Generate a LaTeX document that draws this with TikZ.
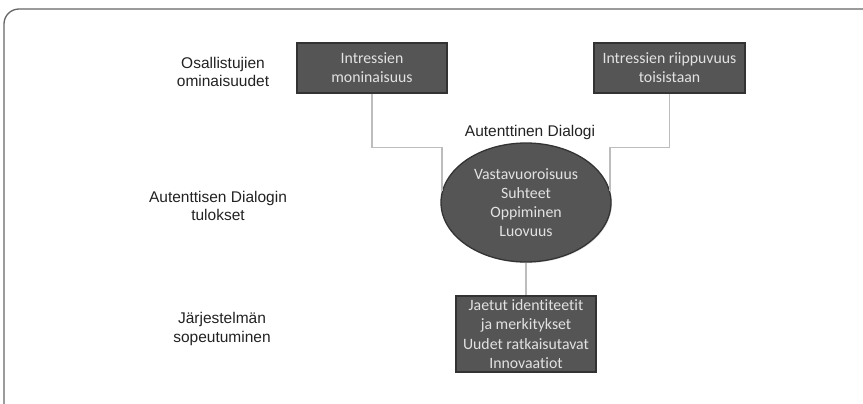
\documentclass[tikz,border=0pt]{standalone}
\usepackage{fontspec}
\newfontfamily\boxfont[Ligatures=NoCommon]{Carlito}
\newfontfamily\labfont{Liberation Sans}
\usetikzlibrary{shapes.geometric,shadows}

\definecolor{boxfill}{HTML}{555555}
\definecolor{boxedge}{HTML}{333333}
\definecolor{boxtext}{HTML}{E2E2E2}
\definecolor{linkgray}{HTML}{BDBDBD}
\definecolor{framegray}{HTML}{666666}
\definecolor{labtext}{HTML}{222222}

\tikzset{
  darkbox/.style={draw=boxedge, fill=boxfill, line width=1.3pt, text=boxtext,
    align=center, inner sep=0pt,
    font=\boxfont\fontsize{15.8}{19.2}\selectfont,
    drop shadow={shadow xshift=1pt, shadow yshift=-1pt, opacity=0.25}},
  darkell/.style={darkbox, ellipse},
  rowlabel/.style={text=labtext, align=center, inner sep=0pt,
    font=\labfont\fontsize{15.5}{18.5}\selectfont},
  link/.style={draw=linkgray, line width=1.6pt}
}

\begin{document}
\begin{tikzpicture}[x=1pt, y=-1pt]
  \useasboundingbox (0,0) rectangle (863,404);
  \begin{scope}
    \clip (0,0) rectangle (863,404);
    % outer frame, open to the right and bottom
    \draw[framegray, line width=1.3pt, rounded corners=15pt] (4,9) rectangle (885,425);
  \end{scope}

  % row labels
  \node[rowlabel] (lab1) at (223,72) {Osallistujien\\ominaisuudet};
  \node[rowlabel] (lab2) at (218,206) {Autenttisen Dialogin\\tulokset};
  \node[rowlabel] (lab3) at (222,329) {Järjestelmän\\sopeutuminen};

  % participant characteristics
  \node[darkbox, minimum width=150pt, minimum height=50pt] (b1) at (372,68)
    {Intressien\\moninaisuus};
  \node[darkbox, minimum width=151pt, minimum height=50pt] (b2) at (669.5,68)
    {Intressien riippuvuus\\toisistaan};

  % dialogue
  \node[darkell, minimum width=170pt, minimum height=119pt] (ell) at (526,202.5)
    {Vastavuoroisuus\\Suhteet\\Oppiminen\\Luovuus};
  \node[rowlabel] (title) at (530,132) {Autenttinen Dialogi};

  % system adaptation
  \node[darkbox, minimum width=140pt, minimum height=76pt] (b3) at (526,334)
    {Jaetut identiteetit\\ja merkitykset\\Uudet ratkaisutavat\\Innovaatiot};

  % connectors
  \draw[link] (b1.south) |- (ell.172 |- 0,147.5) -- (ell.172);
  \draw[link] (b2.south) |- (ell.8 |- 0,147.5) -- (ell.8);
  \draw[link] (ell.south) -- (b3.north);
\end{tikzpicture}
\end{document}
